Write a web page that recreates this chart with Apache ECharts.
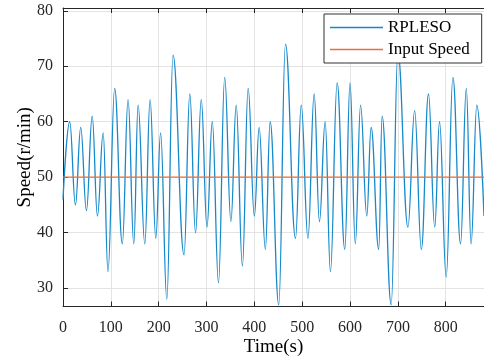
<!DOCTYPE html>
<html>
<head>
<meta charset="utf-8">
<script src="https://cdn.jsdelivr.net/npm/echarts@6/dist/echarts.min.js"></script>
<style>html,body{margin:0;padding:0;background:#fff;}#c{width:484px;height:359px;}</style>
</head>
<body>
<div id="c"></div>
<script>
// Time (s) of each turning point of the RPLESO speed trace
var timeS = [0, 14, 26, 37, 49, 61, 72, 84, 94, 108, 124, 136, 148, 157, 171, 182, 194, 204, 217, 230,
  253, 265, 277, 289, 301, 312, 325, 338, 351, 362, 375, 387, 400, 410, 423, 433, 451, 465, 486, 498,
  512, 525, 536, 548, 559, 573, 589, 600, 611, 622, 635, 644, 660, 667, 686, 700, 721, 735, 749, 764,
  777, 787, 801, 815, 831, 843, 853, 865, 880];
// RPLESO speed (r/min)
var rplesoSpeed = [46, 60, 45, 59, 44, 61, 43, 58, 33, 66, 38, 64, 38, 63, 38, 64, 39, 58, 28, 72,
  36, 65, 40, 64, 41, 60, 31, 68, 42, 63, 34, 66, 43, 59, 37, 60, 27, 74, 39, 63,
  39, 65, 42, 60, 33, 67, 37, 67, 38, 63, 43, 59, 37, 61, 27, 72.5, 41, 62, 37, 65,
  41, 60, 32, 68, 38, 66, 38, 63, 43];
// Input speed reference
var inputTime = [0, 880];
var inputSpeed = [50, 50];
var xTicks = [0, 100, 200, 300, 400, 500, 600, 700, 800];
var yTicks = [30, 40, 50, 60, 70, 80];

var serif = '"Liberation Serif", "Times New Roman", serif';
var axisCol = '#262626';
var chart = echarts.init(document.getElementById('c'), null, {renderer: 'canvas'});
chart.setOption({
  animation: false,
  backgroundColor: '#fff',
  grid: {left: 63, right: 0, top: 8, bottom: 52.5, containLabel: false, outerBoundsMode: 'none'},
  legend: {
    orient: 'vertical', left: 324, top: 14,
    padding: [5, 12, 5, 6], itemGap: 5,
    itemWidth: 53, itemHeight: 1.5, icon: 'rect',
    backgroundColor: '#fff', borderColor: '#333', borderWidth: 1,
    textStyle: {fontFamily: serif, fontSize: 17, color: '#000'},
    data: ['RPLESO', 'Input Speed']
  },
  xAxis: [{
    type: 'value', min: 0, max: 880, interval: 100,
    name: 'Time(s)', nameLocation: 'middle', nameGap: 31, nameMoveOverlap: false,
    nameTextStyle: {fontFamily: serif, fontSize: 19, color: '#000'},
    axisLine: {show: true, lineStyle: {color: axisCol, width: 1}},
    axisTick: {show: true, inside: true, length: 5, lineStyle: {color: axisCol}},
    axisLabel: {fontFamily: serif, fontSize: 16, color: '#262626', margin: 13,
      showMaxLabel: false,
      formatter: function (v) { return xTicks.indexOf(v) >= 0 ? String(v) : ''; }},
    splitLine: {show: true, lineStyle: {color: '#e3e3e3', width: 1}}
  }, {
    type: 'value', min: 0, max: 880, interval: 100, position: 'top',
    axisLine: {show: true, onZero: false, lineStyle: {color: axisCol, width: 1}},
    axisTick: {show: true, inside: true, length: 5, lineStyle: {color: axisCol}},
    axisLabel: {show: false}, splitLine: {show: false}
  }],
  yAxis: {
    type: 'value', min: 26.7, max: 80.5, minInterval: 10, maxInterval: 10,
    name: 'Speed(r/min)', nameLocation: 'middle', nameGap: 28, nameMoveOverlap: false,
    nameTextStyle: {fontFamily: serif, fontSize: 19, color: '#000'},
    axisLine: {show: true, lineStyle: {color: axisCol, width: 1}},
    axisTick: {show: true, inside: true, length: 5, lineStyle: {color: axisCol}},
    axisLabel: {fontFamily: serif, fontSize: 16, color: '#262626', margin: 10,
      showMinLabel: false, showMaxLabel: false,
      formatter: function (v) { return yTicks.indexOf(v) >= 0 ? String(v) : ''; }},
    splitLine: {show: true, lineStyle: {color: '#e3e3e3', width: 1}}
  },
  series: [{
    name: 'RPLESO', type: 'line', symbol: 'none',
    smooth: 0.42, smoothMonotone: 'x',
    data: timeS.map(function (t, i) { return [t, rplesoSpeed[i]]; }),
    lineStyle: {color: '#1689cb', width: 1.3}, itemStyle: {color: '#1689cb'}
  }, {
    name: 'Input Speed', type: 'line', symbol: 'none',
    data: inputTime.map(function (t, i) { return [t, inputSpeed[i]]; }),
    lineStyle: {color: '#e8703f', width: 1.2}, itemStyle: {color: '#e8703f'}
  }]
});
</script>
</body>
</html>
